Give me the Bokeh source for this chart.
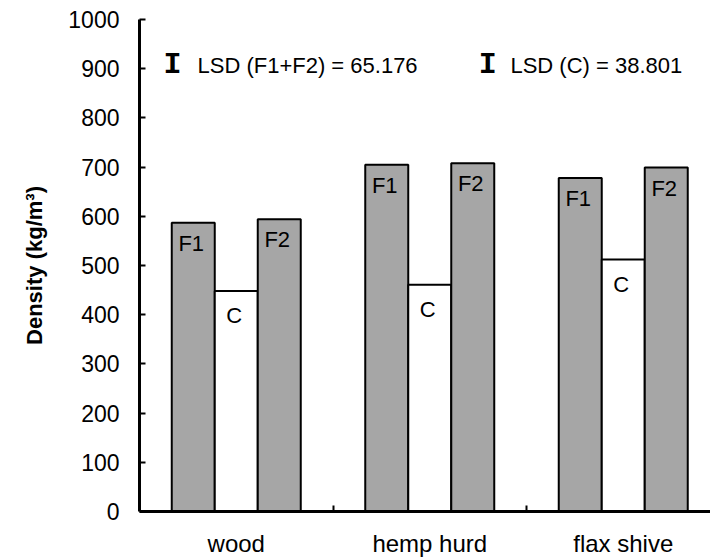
from bokeh.plotting import figure
from bokeh.models import Range1d, FixedTicker, ColumnDataSource
from bokeh.core.properties import value
from bokeh.embed import file_html
from bokeh.resources import INLINE

# ---- data ----
categories = ["wood", "hemp hurd", "flax shive"]
series = ["F1", "C", "F2"]
f1_values = [587, 705, 678]
c_values = [448, 461, 512]
f2_values = [594, 708, 699]
y_ticks = [0, 100, 200, 300, 400, 500, 600, 700, 800, 900, 1000]
lsd_labels = ["LSD (F1+F2) = 65.176", "LSD (C) = 38.801"]

FONT = "Liberation Sans"

p = figure(width=710, height=559, output_backend="svg", toolbar_location=None,
           x_range=Range1d(0, 571 / 193.5), y_range=Range1d(0, 1000),
           min_border_left=139, min_border_right=0, min_border_top=19,
           min_border_bottom=46)
p.xgrid.visible = False
p.ygrid.visible = False
p.outline_line_color = None
p.background_fill_color = "white"
p.border_fill_color = "white"

bw = 43 / 193.5
centers = [i + 0.5 for i in range(len(categories))]
colors = {"F1": "#A6A6A6", "C": "#FFFFFF", "F2": "#A6A6A6"}
vals = {"F1": f1_values, "C": c_values, "F2": f2_values}
offs = {"F1": -bw, "C": 0.0, "F2": bw}

for s in series:
    xs = [cx + offs[s] for cx in centers]
    src = ColumnDataSource(dict(x=xs, top=vals[s], lab=[s] * len(xs)))
    p.vbar(x="x", top="top", bottom=0, width=bw, source=src,
           fill_color=colors[s], line_color="black", line_width=2)
    p.text(x="x", y="top", text="lab", source=src,
           text_font=value(FONT), text_font_size="22px", text_color="black",
           text_align="center", text_baseline="top",
           x_offset=-2, y_offset=(12 if s == "C" else 8))

# LSD annotations
lsd_src = ColumnDataSource(dict(x=[0.2997, 1.917], y=[907, 907], t=lsd_labels))
p.text(x="x", y="y", text="t", source=lsd_src, text_font=value(FONT),
       text_font_size="22px", text_color="black", text_align="left",
       text_baseline="alphabetic")
i_src = ColumnDataSource(dict(x=[0.17, 1.80], y=[907, 907], t=["I", "I"]))
p.text(x="x", y="y", text="t", source=i_src, text_font=value("Liberation Mono"),
       text_font_style="bold", text_font_size="30px", text_color="black",
       text_align="center", text_baseline="alphabetic")

# y axis
ya = p.yaxis[0]
ya.ticker = FixedTicker(ticks=y_ticks)
ya.axis_label = "Density (kg/m\u00b3)"
ya.axis_label_text_font = FONT
ya.axis_label_text_font_style = "bold"
ya.axis_label_text_font_size = "22px"
ya.axis_label_text_color = "black"
ya.axis_label_standoff = 18
ya.major_label_text_font = FONT
ya.major_label_text_font_size = "23px"
ya.major_label_text_color = "black"
ya.major_label_standoff = 20
ya.axis_line_width = 3
ya.axis_line_color = "black"
ya.major_tick_in = 6
ya.major_tick_out = 0
ya.major_tick_line_width = 2
ya.major_tick_line_color = "black"
ya.minor_tick_line_color = None

# x axis
xa = p.xaxis[0]
xa.ticker = FixedTicker(ticks=centers, minor_ticks=[1, 2])
xa.major_label_overrides = {c: n for c, n in zip(centers, categories)}
xa.major_label_text_font = FONT
xa.major_label_text_font_size = "24px"
xa.major_label_text_color = "black"
xa.major_label_standoff = 18
xa.axis_line_width = 3
xa.axis_line_color = "black"
xa.major_tick_in = 0
xa.major_tick_out = 0
xa.minor_tick_in = 6
xa.minor_tick_out = 0
xa.minor_tick_line_width = 2
xa.minor_tick_line_color = "black"

open("out.html", "w").write(file_html(p, INLINE))
